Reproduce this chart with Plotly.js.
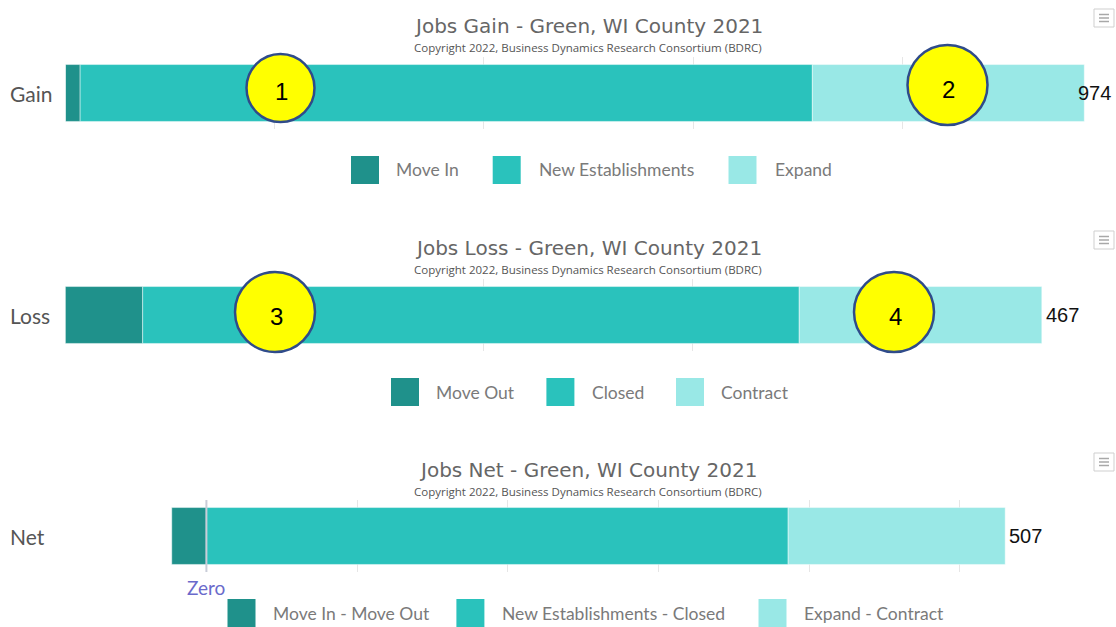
<!DOCTYPE html>
<html><head><meta charset="utf-8">
<script src="https://cdn.plot.ly/plotly-3.0.1.min.js"></script>
<style>html,body{margin:0;padding:0;background:#fff}#chart{width:1116px;height:627px}</style>
</head><body><div id="chart"></div>
<script>
// ---------------- data ----------------
const gainCategory = ["Gain"];
const gainSeries = ["Move In", "New Establishments", "Expand"];
const gainValues = [14, 700, 260];

const lossCategory = ["Loss"];
const lossSeries = ["Move Out", "Closed", "Contract"];
const lossValues = [37, 314, 116];

const netCategory = ["Net"];
const netSeries = ["Move In - Move Out", "New Establishments - Closed", "Expand - Contract"];
const netValues = [-23, 386, 144];

const chartTitles = ["Jobs Gain - Green, WI County 2021", "Jobs Loss - Green, WI County 2021", "Jobs Net - Green, WI County 2021"];
const subtitleText = "Copyright 2022, Business Dynamics Research Consortium (BDRC)";
const zeroLabel = "Zero";
const calloutLabels = ["1", "2", "3", "4"];

// ---------------- styling / layout ----------------
const W = 1116, H = 627;
const fx = px => px / W;
const fy = px => 1 - px / H;
const colors = ["#1f918b", "#2ac2bc", "#99e8e6"];

const panels = [
  {cats: gainCategory, series: gainSeries, values: gainValues, range: [0, 1000], dtick: 200, xDom: [65.5, 1111.5], yDom: [57, 129], off: 0,
   legendX: [[351, 394], [492.7, 537], [728.5, 772.5]]},
  {cats: lossCategory, series: lossSeries, values: lossValues, range: [0, 500], dtick: 100, xDom: [65.3, 1110.8], yDom: [279, 351], off: 222,
   legendX: [[391, 434], [546.4, 590], [676, 719]]},
  {cats: netCategory, series: netSeries, values: netValues, range: [-100, 600], dtick: 100, xDom: [55.7, 1110.7], yDom: [500, 572], off: 444,
   legendX: [[227.5, 271.4], [456.4, 500], [758.5, 802.4]]}
];
const legendY = [170, 392, 613];

const traces = [];
const annotations = [];
const shapes = [];
const layout = {
  width: W, height: H,
  margin: {l: 0, r: 0, t: 0, b: 0},
  paper_bgcolor: "#ffffff", plot_bgcolor: "#ffffff",
  barmode: "relative", bargap: 0.21,
  showlegend: false,
  annotations: annotations, shapes: shapes
};

panels.forEach((p, i) => {
  const sfx = i === 0 ? "" : String(i + 1);
  const xa = "x" + sfx, ya = "y" + sfx;
  p.series.forEach((name, j) => {
    traces.push({
      type: "bar", orientation: "h", name: name,
      x: [p.values[j]], y: p.cats,
      xaxis: xa, yaxis: ya,
      marker: {color: colors[j], line: {color: "rgba(255,255,255,0.45)", width: 1}},
      hoverinfo: "name+x"
    });
  });
  layout["xaxis" + sfx] = {
    domain: [fx(p.xDom[0]), fx(p.xDom[1])], anchor: ya,
    range: p.range, tick0: 0, dtick: p.dtick,
    showticklabels: false, ticks: "", showgrid: true, gridcolor: "#e6e6e6", gridwidth: 1,
    zeroline: false, showline: false, fixedrange: true
  };
  layout["yaxis" + sfx] = {
    domain: [fy(p.yDom[1]), fy(p.yDom[0])], anchor: xa,
    type: "category", range: [-0.5, 0.5],
    showticklabels: false, ticks: "", showgrid: false, zeroline: false, showline: false, fixedrange: true
  };
  // category label (left-aligned like the original)
  annotations.push({xref: "paper", yref: ya, x: fx(8), y: p.cats[0], xanchor: "left", yanchor: "middle",
    text: p.cats[0], showarrow: false, font: {family: "Lato", size: 21, color: "#555555"}});
  // title & subtitle
  annotations.push({xref: "paper", yref: "paper", x: fx(588), y: fy(26 + p.off), xanchor: "center", yanchor: "middle",
    text: chartTitles[i], showarrow: false, font: {family: "DejaVu Sans", size: 20, color: "#666666"}});
  annotations.push({xref: "paper", yref: "paper", x: fx(588), y: fy(47 + p.off), xanchor: "center", yanchor: "middle",
    text: subtitleText, showarrow: false, font: {family: "Open Sans", size: 11.5, color: "#555555"}});
  // total label
  const total = p.values.reduce((a, b) => a + b, 0);
  const posEnd = p.values.filter(v => v > 0).reduce((a, b) => a + b, 0);
  const endPx = p.xDom[0] + (posEnd - p.range[0]) / (p.range[1] - p.range[0]) * (p.xDom[1] - p.xDom[0]);
  const labelW = 34;
  if (endPx + 4 + labelW > 1113) {
    annotations.push({xref: "paper", yref: ya, x: fx(1113), y: p.cats[0], xanchor: "right", yanchor: "middle",
      text: String(total), showarrow: false, font: {family: "Liberation Sans", size: 20, color: "#111111"}});
  } else {
    annotations.push({xref: xa, yref: ya, x: posEnd, y: p.cats[0], xanchor: "left", yanchor: "middle", xshift: 2,
      text: String(total), showarrow: false, font: {family: "Liberation Sans", size: 20, color: "#111111"}});
  }
  // legend
  p.series.forEach((name, j) => {
    const [sx, tx] = p.legendX[j];
    const cy = legendY[i];
    shapes.push({type: "rect", xref: "paper", yref: "paper", x0: fx(sx), x1: fx(sx + 28), y0: fy(cy + 14), y1: fy(cy - 14),
      fillcolor: colors[j], line: {width: 0}, layer: "above"});
    annotations.push({xref: "paper", yref: "paper", x: fx(tx), y: fy(cy), xanchor: "left", yanchor: "middle",
      text: name, showarrow: false, font: {family: "Lato", size: 17.5, color: "#7a7a7a"}});
  });
  // menu icon
  const mt = 9 + p.off;
  shapes.push({type: "rect", xref: "paper", yref: "paper", x0: fx(1094), x1: fx(1114), y0: fy(mt + 18), y1: fy(mt),
    fillcolor: "#ffffff", line: {color: "#cfcfcf", width: 1}, layer: "above"});
  [5.5, 9, 12.5].forEach(d => {
    shapes.push({type: "line", xref: "paper", yref: "paper", x0: fx(1099), x1: fx(1109), y0: fy(mt + d), y1: fy(mt + d),
      line: {color: "#a8a8a8", width: 1.5}, layer: "above"});
  });
});

// zero plot line on net chart
shapes.push({type: "line", xref: "x3", yref: "paper", x0: 0, x1: 0, y0: fy(572), y1: fy(500),
  line: {color: "#c9cdd8", width: 2}, layer: "above"});
annotations.push({xref: "x3", yref: "paper", x: 0, y: fy(587), xanchor: "center", yanchor: "middle",
  text: zeroLabel, showarrow: false, font: {family: "Lato", size: 19, color: "#6a6acb"}});

// yellow numbered callouts
const callouts = [
  {cx: 280.5, cy: 88, r: 34},
  {cx: 947.5, cy: 85, r: 40},
  {cx: 275, cy: 312, r: 40},
  {cx: 894, cy: 312, r: 40}
];
callouts.forEach((c, k) => {
  shapes.push({type: "circle", xref: "paper", yref: "paper", x0: fx(c.cx - c.r), x1: fx(c.cx + c.r), y0: fy(c.cy + c.r), y1: fy(c.cy - c.r),
    fillcolor: "#ffff00", line: {color: "#2f4b8a", width: 2.5}, layer: "above"});
  annotations.push({xref: "paper", yref: "paper", x: fx(c.cx + 1), y: fy(c.cy + 4), xanchor: "center", yanchor: "middle",
    text: calloutLabels[k], showarrow: false, font: {family: "Liberation Sans", size: 24, color: "#000000"}});
});

Plotly.newPlot("chart", traces, layout, {displayModeBar: false, responsive: false});
</script>
</body></html>
